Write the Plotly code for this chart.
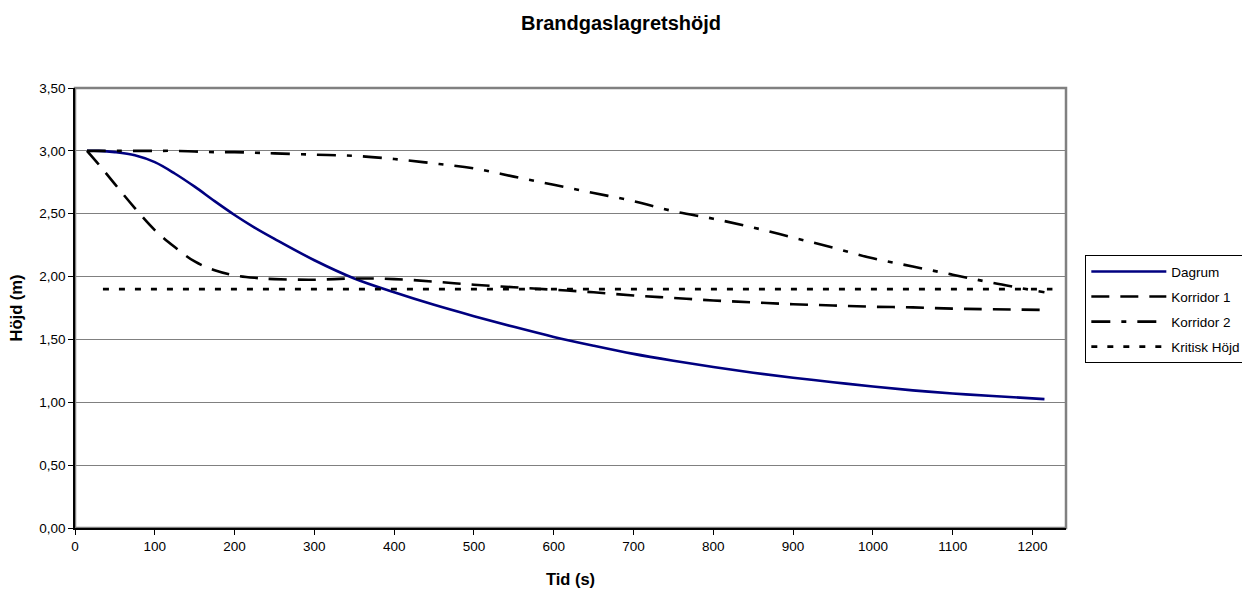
import plotly.graph_objects as go

# Time (s) and smoke layer height (m) for each room
tid = [15, 30, 50, 75, 100, 125, 150, 175, 200, 225, 250, 300, 350, 400, 450, 500,
       550, 600, 650, 700, 750, 800, 850, 900, 950, 1000, 1050, 1100, 1150, 1215]

dagrum = [3.00, 3.00, 2.99, 2.965, 2.91, 2.82, 2.715, 2.60, 2.49, 2.39, 2.30, 2.13,
          1.985, 1.875, 1.775, 1.685, 1.60, 1.52, 1.45, 1.385, 1.33, 1.28, 1.235,
          1.195, 1.16, 1.125, 1.095, 1.07, 1.05, 1.025]

korridor1 = [3.00, 2.89, 2.735, 2.545, 2.37, 2.235, 2.12, 2.05, 2.01, 1.99, 1.98,
             1.975, 1.985, 1.98, 1.96, 1.935, 1.915, 1.895, 1.875, 1.85, 1.83,
             1.81, 1.795, 1.78, 1.77, 1.76, 1.755, 1.745, 1.74, 1.735]

korridor2 = [3.00, 3.00, 3.00, 3.00, 3.00, 3.00, 2.995, 2.99, 2.99, 2.985, 2.98, 2.97,
             2.96, 2.935, 2.90, 2.86, 2.795, 2.73, 2.665, 2.60, 2.52, 2.46, 2.39,
             2.31, 2.23, 2.145, 2.08, 2.015, 1.95, 1.875]

kritisk_tid = [35, 1225]
kritisk_hojd = [1.90, 1.90]

x_ticks = list(range(0, 1201, 100))
y_ticks = [0, 0.5, 1.0, 1.5, 2.0, 2.5, 3.0, 3.5]

FONT = "Liberation Sans, Arial, sans-serif"

fig = go.Figure()
fig.add_trace(go.Scatter(x=tid, y=dagrum, name="Dagrum", mode="lines",
                         line=dict(color="#000080", width=2.6, shape="spline"),
                         legendgroup="a"))
fig.add_trace(go.Scatter(x=tid, y=korridor1, name="Korridor 1", mode="lines",
                         line=dict(color="black", width=2.6, dash="18px,11px",
                                   shape="spline"),
                         legendgroup="b"))
fig.add_trace(go.Scatter(x=tid, y=korridor2, name="Korridor 2", mode="lines",
                         line=dict(color="black", width=2.6,
                                   dash="19px,11px,5px,11px", shape="spline"),
                         legendgroup="c"))
fig.add_trace(go.Scatter(x=kritisk_tid, y=kritisk_hojd, name="Kritisk Höjd",
                         mode="lines",
                         line=dict(color="black", width=2.6, dash="6px,10px"),
                         legendgroup="d"))

# grey frame on top/right of the plot area
fig.add_shape(type="rect", xref="x domain", yref="y domain", x0=0, x1=1, y0=0, y1=1,
              line=dict(color="#808080", width=2.5), layer="below")

fig.update_layout(
    width=1242, height=589,
    margin=dict(l=75, r=176, t=88, b=61, autoexpand=False),
    paper_bgcolor="white", plot_bgcolor="white",
    separators=",.",
    font=dict(family=FONT, size=13.5, color="black"),
    title=dict(text="<b>Brandgaslagretshöjd</b>", x=0.5, xanchor="center",
               y=1 - 23 / 589, yanchor="middle",
               font=dict(family=FONT, size=20, color="black")),
    showlegend=True,
    legend=dict(x=1.0195, xanchor="left", y=0.62, yanchor="top",
                bordercolor="black", borderwidth=1, bgcolor="white",
                font=dict(family=FONT, size=13.5, color="black"),
                traceorder="grouped", tracegroupgap=4.5, itemwidth=75),
    xaxis=dict(range=[0, 1242], tickvals=x_ticks, ticks="outside", ticklen=5,
               tickcolor="black", showline=True, linecolor="black", linewidth=1.5,
               showgrid=False, zeroline=False,
               title=dict(text="<b>Tid (s)</b>", font=dict(family=FONT, size=16.5),
                          standoff=20)),
    yaxis=dict(range=[0, 3.5], tickvals=y_ticks, tickformat=".2f", ticks="outside",
               ticklen=5, tickcolor="black", showline=True, linecolor="black",
               linewidth=1.5, showgrid=True, gridcolor="#808080", gridwidth=1,
               zeroline=False,
               title=dict(text="<b>Höjd (m)</b>", font=dict(family=FONT, size=16.5),
                          standoff=12)),
)

fig.write_html("out.html")
